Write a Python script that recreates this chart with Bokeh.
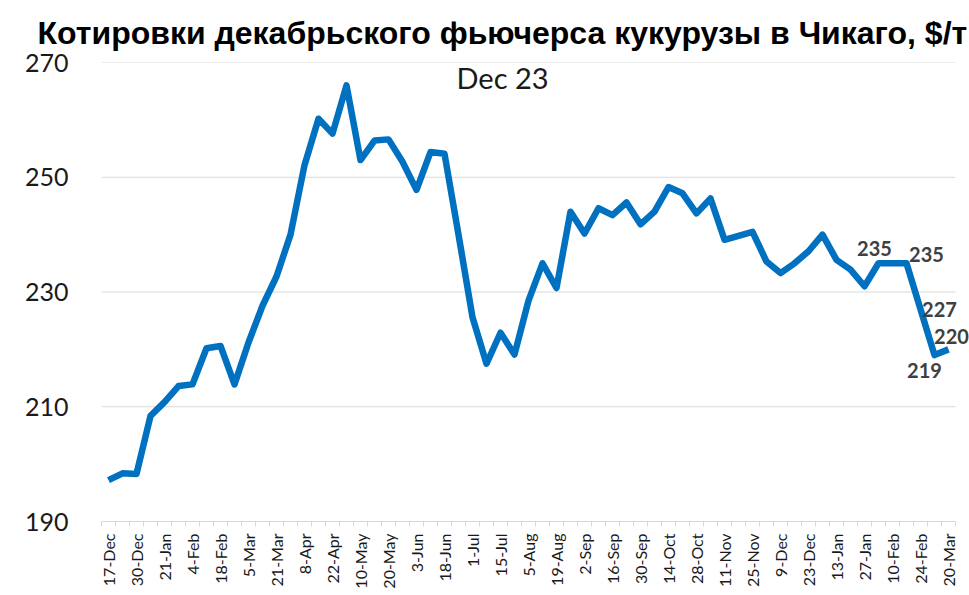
import numpy as np
from bokeh.plotting import figure
from bokeh.models import FixedTicker, ColumnDataSource, LabelSet, Label
from bokeh.embed import file_html
from bokeh.resources import INLINE
from bokeh.core.properties import value

title_text = "Котировки декабрьского фьючерса кукурузы в Чикаго, $/т"
series_name = "Dec 23"

tick_labels = ["17-Dec", "30-Dec", "21-Jan", "4-Feb", "18-Feb", "5-Mar", "21-Mar",
               "8-Apr", "22-Apr", "10-May", "20-May", "3-Jun", "18-Jun", "1-Jul",
               "15-Jul", "5-Aug", "19-Aug", "2-Sep", "16-Sep", "30-Sep", "14-Oct",
               "28-Oct", "11-Nov", "25-Nov", "9-Dec", "23-Dec", "13-Jan", "27-Jan",
               "10-Feb", "24-Feb", "20-Mar"]

prices = [197.2, 198.4, 198.3, 208.4, 210.8, 213.6, 213.9, 220.2, 220.6, 213.9,
          221.2, 227.6, 232.7, 240.0, 252.1, 260.2, 257.6, 266.0, 253.0, 256.4,
          256.6, 252.7, 247.8, 254.4, 254.1, 240.0, 225.6, 217.5, 222.9, 219.1,
          228.5, 235.0, 230.7, 244.0, 240.2, 244.6, 243.4, 245.6, 241.8, 244.0,
          248.3, 247.2, 243.7, 246.3, 239.1, 239.8, 240.5, 235.3, 233.3, 235.0,
          237.1, 240.0, 235.6, 233.9, 231.0, 235.0, 235.0, 235.0, 227.0, 219.0,
          220.0]

labelled_points = [55, 57, 58, 59, 60]
y_ticks = [190, 210, 230, 250, 270]

# label placement (screen pixel offsets relative to the point)
label_dx = [-4, 20, 19, -10, 3]
label_dy = [15, 9, 0, -15, 13]

x = list(range(len(prices)))
major = x[::2]
overrides = {i: tick_labels[k] for k, i in enumerate(major)}
minor = [i - 0.5 for i in x] + [x[-1] + 0.5]
x_lo, x_hi = -0.5, len(prices) - 0.5

p = figure(width=969, height=595, x_range=(x_lo, x_hi + 1), y_range=(190, 270),
           output_backend="svg", toolbar_location=None,
           min_border_left=101, min_border_right=0, min_border_top=60, min_border_bottom=74)
p.outline_line_color = None
p.background_fill_color = "white"

p.title.text = title_text
p.title.text_font = "Liberation Sans"
p.title.text_font_style = "bold"
p.title.text_font_size = "32px"
p.title.text_color = "black"
p.title.align = "left"
p.title.offset = -64
p.title.standoff = 24

p.xgrid.visible = False
p.ygrid.visible = False
# horizontal gridlines limited to the category span
p.segment(x0=[x_lo] * len(y_ticks), x1=[x_hi] * len(y_ticks), y0=y_ticks, y1=y_ticks,
          line_color="#d9d9d9", line_width=1, level="underlay")

p.yaxis.ticker = FixedTicker(ticks=y_ticks)
p.yaxis.axis_line_color = None
p.yaxis.major_tick_line_color = None
p.yaxis.minor_tick_line_color = None
p.yaxis.major_label_standoff = 27
p.yaxis.major_label_text_font = "Lato"
p.yaxis.major_label_text_font_size = "25px"
p.yaxis.major_label_text_color = "#1a1a1a"

p.xaxis.bounds = (x_lo, x_hi)
p.xaxis.ticker = FixedTicker(ticks=major, minor_ticks=minor)
p.xaxis.major_label_overrides = overrides
p.xaxis.major_label_orientation = np.pi / 2
p.xaxis.axis_line_color = "#d9d9d9"
p.xaxis.major_tick_line_color = None
p.xaxis.minor_tick_line_color = "#d9d9d9"
p.xaxis.minor_tick_in = 0
p.xaxis.minor_tick_out = 5
p.xaxis.major_label_standoff = 6
p.xaxis.major_label_text_font = "Lato"
p.xaxis.major_label_text_font_size = "16px"
p.xaxis.major_label_text_color = "#1a1a1a"

p.line(x, prices, line_width=6.5, line_color="#0070C0", line_join="round")

src = ColumnDataSource(dict(
    x=labelled_points,
    y=[prices[i] for i in labelled_points],
    text=["%.0f" % prices[i] for i in labelled_points],
    dx=label_dx, dy=label_dy,
))
p.add_layout(LabelSet(x="x", y="y", text="text", x_offset="dx", y_offset="dy", source=src,
                      text_align="center", text_baseline="middle",
                      text_font=value("Lato"), text_font_style="bold",
                      text_font_size="20px", text_color="#404040"))

p.add_layout(Label(x=401, y=444, x_units="screen", y_units="screen", text=series_name,
                   text_align="center", text_baseline="middle",
                   text_font="Lato", text_font_size="29px", text_color="#1a1a1a"))

open("out.html", "w").write(file_html(p, INLINE))
